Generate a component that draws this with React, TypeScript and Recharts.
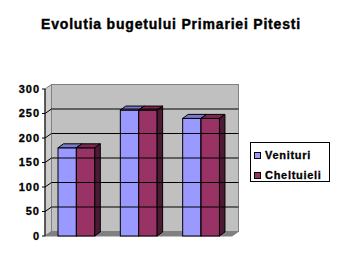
import React from 'react';
import { BarChart, Bar, XAxis, YAxis, ReferenceArea, ReferenceLine, Legend } from 'recharts';

const categories = ['1', '2', '3'];
const venituri = [180, 257, 240];
const cheltuieli = [180, 257, 240];
const yTicks = [0, 50, 100, 150, 200, 250, 300];
const gridValues = [50, 100, 150, 200, 250];
const boundaryTicks = [0, 1, 2, 3];
const seriesOrder = ['Venituri', 'Cheltuieli'];

const data = categories.map((c, i) => ({ cat: c, Venituri: venituri[i], Cheltuieli: cheltuieli[i] }));

const WDX = 6.5;
const WDY = -4.5;
const BDX = 5.5;
const BDY = -4;
const FONT = '"Liberation Sans", Arial, sans-serif';

const make3DBar = (front: string, top: string, side: string) => (props: any) => {
  const { x, y, width, height } = props;
  if (width == null || height == null) return <g />;
  const p = (pts: number[][]) => pts.map((q) => q.join(',')).join(' ');
  return (
    <g>
      <rect x={x} y={y} width={width} height={height} fill={front} stroke="#000" strokeWidth={1} />
      <polygon
        points={p([[x, y], [x + BDX, y + BDY], [x + width + BDX, y + BDY], [x + width, y]])}
        fill={top}
        stroke="#000"
        strokeWidth={1}
        strokeLinejoin="round"
      />
      <polygon
        points={p([[x + width, y], [x + width + BDX, y + BDY], [x + width + BDX, y + height + BDY], [x + width, y + height]])}
        fill={side}
        stroke="#000"
        strokeWidth={1}
        strokeLinejoin="round"
      />
    </g>
  );
};

const WallShape = (props: any) => {
  const { x, y, width, height } = props;
  const p = (pts: number[][]) => pts.map((q) => q.join(',')).join(' ');
  return (
    <g>
      <polygon points={p([[x, y], [x + WDX, y + WDY], [x + WDX, y + height + WDY], [x, y + height]])} fill="#CCCCCC" stroke="#808080" strokeWidth={1} />
      <rect x={x + WDX} y={y + WDY} width={width} height={height} fill="#C0C0C0" stroke="#808080" strokeWidth={1} />
      <polygon
        points={p([[x, y + height], [x + WDX, y + height + WDY], [x + width + WDX, y + height + WDY], [x + width, y + height]])}
        fill="#808080"
        stroke="#808080"
        strokeWidth={1}
      />
    </g>
  );
};

const GridLine = (props: any) => {
  const { x1, y1, x2 } = props;
  if (x1 == null || y1 == null) return <g />;
  return (
    <g>
      <line x1={x1} y1={y1} x2={x1 + WDX} y2={y1 + WDY} stroke="#000" strokeWidth={1} />
      <line x1={x1 + WDX} y1={y1 + WDY} x2={x2 + WDX} y2={y1 + WDY} stroke="#000" strokeWidth={1} />
    </g>
  );
};

const LegendContent = (props: any) => {
  const payload = [...(props.payload || [])].sort(
    (a: any, b: any) => seriesOrder.indexOf(a.value) - seriesOrder.indexOf(b.value)
  );
  return (
    <div style={{ width: 78, height: 38, border: '1px solid #000', background: '#fff', position: 'relative', fontFamily: FONT }}>
      {payload.map((e: any, i: number) => (
        <div key={e.value} style={{ position: 'absolute', left: 3, top: 6 + i * 20, height: 12, display: 'flex', alignItems: 'center' }}>
          <span style={{ width: 5, height: 5, border: '1px solid #000', background: e.color, display: 'inline-block' }} />
          <span
            style={{
              marginLeft: 4,
              fontSize: 11,
              fontWeight: 'bold',
              letterSpacing: 0.7,
              color: '#000',
              lineHeight: '12px',
              WebkitTextStroke: '0.3px #000',
            }}
          >
            {e.value}
          </span>
        </div>
      ))}
    </div>
  );
};

export default function App() {
  return (
    <div style={{ width: 342, height: 266, position: 'relative', background: '#fff' }}>
      <style>{'body{margin:0;background:#fff}'}</style>
      <BarChart width={342} height={266} data={data} margin={{ top: 89, right: 110, bottom: 30, left: 0 }} barGap={0} barSize={18.4}>
        <ReferenceArea y1={0} y2={300} ifOverflow="visible" shape={WallShape} />
        {gridValues.map((v) => (
          <ReferenceLine key={v} y={v} ifOverflow="visible" shape={GridLine} />
        ))}
        <XAxis dataKey="cat" hide />
        <XAxis
          xAxisId="b"
          type="number"
          domain={[0, 3]}
          ticks={boundaryTicks}
          height={0}
          tick={false}
          tickSize={4}
          axisLine={{ stroke: '#000' }}
          tickLine={{ stroke: '#000' }}
        />
        <YAxis
          width={45}
          domain={[0, 300]}
          ticks={yTicks}
          interval={0}
          tickSize={3}
          tickMargin={2}
          axisLine={{ stroke: '#000' }}
          tickLine={{ stroke: '#000' }}
          tick={{ fontSize: 11, fontWeight: 'bold', fill: '#000', stroke: '#000', strokeWidth: 0.3, fontFamily: FONT, letterSpacing: 1 }}
        />
        <Bar dataKey="Venituri" fill="#9999FF" isAnimationActive={false} shape={make3DBar('#9999FF', '#7A7ACC', '#5C5C99')} />
        <Bar dataKey="Cheltuieli" fill="#993366" isAnimationActive={false} shape={make3DBar('#993366', '#7A2952', '#4D1A33')} />
        <Legend
          layout="vertical"
          align="center"
          verticalAlign="middle"
          content={LegendContent}
          wrapperStyle={{ left: 250, top: 142, width: 80, height: 40 }}
        />
        <text
          x={171}
          y={29}
          textAnchor="middle"
          fontFamily={FONT}
          fontWeight="bold"
          fontSize={14}
          letterSpacing={0.8}
          fill="#000"
          stroke="#000"
          strokeWidth={0.4}
        >
          Evolutia bugetului Primariei Pitesti
        </text>
      </BarChart>
    </div>
  );
}
